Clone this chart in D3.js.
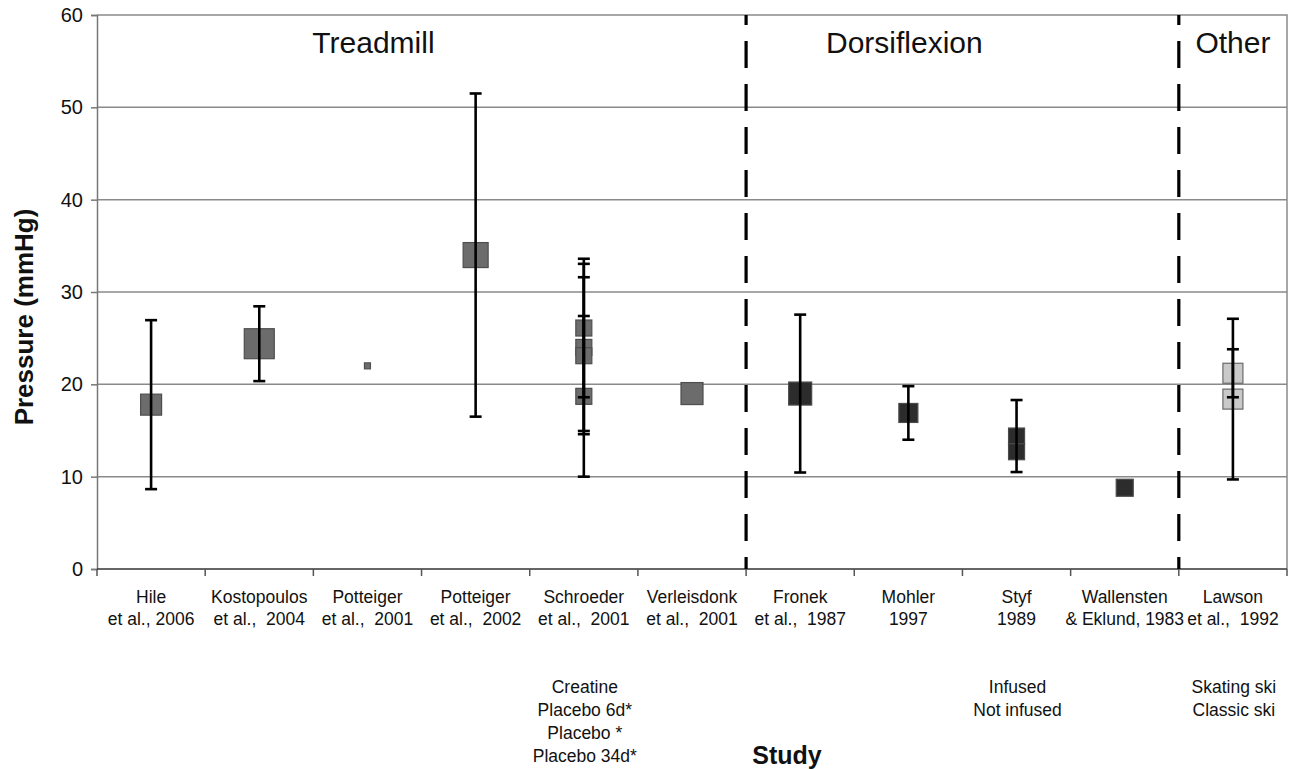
<!DOCTYPE html>
<html>
<head>
<meta charset="utf-8">
<script src="https://cdn.jsdelivr.net/npm/d3@7/dist/d3.min.js"></script>
<style>
  html, body { margin: 0; padding: 0; background: #fff; }
  svg { display: block; font-family: "Liberation Sans", Arial, Helvetica, sans-serif; }
  svg text { white-space: pre; }
</style>
</head>
<body>
<svg id="chart" width="1301" height="769"></svg>
<script>
// Study labels along the x axis (two lines each)
const studyLine1 = ["Hile", "Kostopoulos", "Potteiger", "Potteiger", "Schroeder", "Verleisdonk",
                    "Fronek", "Mohler", "Styf", "Wallensten", "Lawson"];
const studyLine2 = ["et al., 2006", "et al.,  2004", "et al.,  2001", "et al.,  2002", "et al.,  2001",
                    "et al.,  2001", "et al.,  1987", "1997", "1989", "& Eklund, 1983", "et al.,  1992"];

// Protocol groups: name, first and last study index
const groupNames = ["Treadmill", "Dorsiflexion", "Other"];
const groupStart = [0, 6, 10];
const groupEnd = [5, 9, 10];

// Each measured condition: study index, mean pressure, SD (null = none reported), weight
const pointStudy = [0, 1, 2, 3, 4, 4, 4, 4, 5, 6, 7, 8, 8, 9, 10, 10];
const pointMean  = [17.8, 24.4, 22.0, 34.0, 26.1, 24.0, 23.1, 18.7, 19.0, 19.0, 16.9, 14.4, 12.7, 8.8, 21.2, 18.4];
const pointSD    = [9.15, 4.05, null, 17.5, 7.5, 9.05, 8.5, 8.7, null, 8.55, 2.9, 3.9, null, null, 2.6, 8.7];
const pointWeight = [21, 30, 6, 25, 16, 16, 16, 16, 22, 23, 19, 16, 16, 17, 20, 20];
const pointGroup = [0, 0, 0, 0, 0, 0, 0, 0, 0, 1, 1, 1, 1, 1, 2, 2];

// Condition labels written under some studies
const noteStudy = [4, 8, 10];
const noteLines = [
  ["Creatine", "Placebo 6d*", "Placebo *", "Placebo 34d*"],
  ["Infused", "Not infused"],
  ["Skating ski", "Classic ski"]
];

const yTicks = [0, 10, 20, 30, 40, 50, 60];

const groupFill = ["#6c6c6c", "#2c2c2c", "#c9c9c9"];
const groupStroke = ["#4e4e4e", "#4a4a4a", "#6a6a6a"];

const svg = d3.select("#chart");
const margin = { left: 97, right: 14, top: 15, bottom: 200 };
const W = 1301, H = 769;
const plotW = W - margin.left - margin.right;
const plotH = H - margin.top - margin.bottom;

const x = d3.scaleBand().domain(d3.range(studyLine1.length)).range([margin.left, margin.left + plotW]).padding(0);
const y = d3.scaleLinear().domain([0, 60]).range([margin.top + plotH, margin.top]);
const size = d3.scaleLinear().domain([0, 30]).range([0, 30]);

const cx = i => x(i) + x.bandwidth() / 2;

// Horizontal gridlines
svg.append("g").selectAll("line").data(yTicks.filter(t => t > 0 && t < 60)).join("line")
  .attr("x1", margin.left).attr("x2", margin.left + plotW)
  .attr("y1", d => y(d)).attr("y2", d => y(d))
  .attr("stroke", "#8a8a8a").attr("stroke-width", 1.5);

// Plot frame (top and right)
svg.append("path")
  .attr("d", `M${margin.left},${y(60)}H${margin.left + plotW}V${y(0)}`)
  .attr("fill", "none").attr("stroke", "#8a8a8a").attr("stroke-width", 1.5);

// Y axis
const yAxis = svg.append("g").attr("transform", `translate(${margin.left},0)`)
  .call(d3.axisLeft(y).tickValues(yTicks).tickSize(6).tickPadding(8));
yAxis.select(".domain").attr("stroke", "#777").attr("stroke-width", 1.5);
yAxis.selectAll(".tick line").attr("stroke", "#777").attr("stroke-width", 1.5);
yAxis.selectAll(".tick text").attr("font-size", 20).attr("fill", "#111")
  .attr("font-family", "Liberation Sans, Arial, sans-serif");

// X axis with ticks on band boundaries
const xg = svg.append("g");
xg.append("line").attr("x1", margin.left).attr("x2", margin.left + plotW)
  .attr("y1", y(0)).attr("y2", y(0)).attr("stroke", "#333").attr("stroke-width", 1.5);
xg.selectAll("line.tk").data(d3.range(studyLine1.length + 1)).join("line").attr("class", "tk")
  .attr("x1", d => margin.left + d * x.bandwidth()).attr("x2", d => margin.left + d * x.bandwidth())
  .attr("y1", y(0)).attr("y2", y(0) + 7).attr("stroke", "#555").attr("stroke-width", 1.5);

const lab = xg.selectAll("text.lab").data(d3.range(studyLine1.length)).join("text").attr("class", "lab")
  .attr("x", d => cx(d)).attr("text-anchor", "middle").attr("font-size", 17.5).attr("fill", "#111");
lab.append("tspan").attr("x", d => cx(d)).attr("y", y(0) + 34).text(d => studyLine1[d]);
lab.append("tspan").attr("x", d => cx(d)).attr("y", y(0) + 56).text(d => studyLine2[d]);

// Condition notes
noteStudy.forEach((s, k) => {
  svg.append("g").selectAll("text").data(noteLines[k]).join("text")
    .attr("x", cx(s) + 1).attr("y", (d, j) => 693 + j * 23)
    .attr("text-anchor", "middle").attr("font-size", 17.5).attr("fill", "#111").text(d => d);
});

// Dashed separators between groups
groupStart.slice(1).forEach(s => {
  svg.append("line").attr("x1", x(s)).attr("x2", x(s))
    .attr("y1", y(60)).attr("y2", y(0))
    .attr("stroke", "#000").attr("stroke-width", 3.2)
    .attr("stroke-dasharray", "27,16").attr("stroke-dashoffset", 17);
});

// Group headings, each placed above one of its studies
const headingStudy = [2, 7, 10];
const headingShift = [6, -4, 0];
groupNames.forEach((g, k) => {
  svg.append("text").attr("x", cx(headingStudy[k]) + headingShift[k]).attr("y", 53).attr("text-anchor", "middle")
    .attr("font-size", 30).attr("fill", "#111").text(g);
});

// Condition markers (squares sized by weight)
const pts = d3.range(pointStudy.length);
svg.append("g").selectAll("rect").data(pts).join("rect")
  .attr("x", i => cx(pointStudy[i]) - size(pointWeight[i]) / 2)
  .attr("y", i => y(pointMean[i]) - size(pointWeight[i]) / 2)
  .attr("width", i => size(pointWeight[i])).attr("height", i => size(pointWeight[i]))
  .attr("fill", i => groupFill[pointGroup[i]])
  .attr("stroke", i => groupStroke[pointGroup[i]]).attr("stroke-width", 1.2);

// Error bars (mean ± SD)
const eb = svg.append("g").selectAll("g").data(pts.filter(i => pointSD[i] != null)).join("g")
  .attr("stroke", "#000").attr("stroke-width", 2.6);
eb.append("line")
  .attr("x1", i => cx(pointStudy[i])).attr("x2", i => cx(pointStudy[i]))
  .attr("y1", i => y(pointMean[i] + pointSD[i])).attr("y2", i => y(pointMean[i] - pointSD[i]));
eb.append("line")
  .attr("x1", i => cx(pointStudy[i]) - 6).attr("x2", i => cx(pointStudy[i]) + 6)
  .attr("y1", i => y(pointMean[i] + pointSD[i])).attr("y2", i => y(pointMean[i] + pointSD[i]));
eb.append("line")
  .attr("x1", i => cx(pointStudy[i]) - 6).attr("x2", i => cx(pointStudy[i]) + 6)
  .attr("y1", i => y(pointMean[i] - pointSD[i])).attr("y2", i => y(pointMean[i] - pointSD[i]));

// Axis titles
svg.append("text").attr("transform", `translate(33,${(y(0) + y(60)) / 2 + 25}) rotate(-90)`)
  .attr("text-anchor", "middle").attr("font-size", 26).attr("font-weight", "bold").attr("fill", "#111")
  .text("Pressure (mmHg)");
svg.append("text").attr("x", 787).attr("y", 764).attr("text-anchor", "middle")
  .attr("font-size", 25).attr("font-weight", "bold").attr("fill", "#111").text("Study");
</script>
</body>
</html>
